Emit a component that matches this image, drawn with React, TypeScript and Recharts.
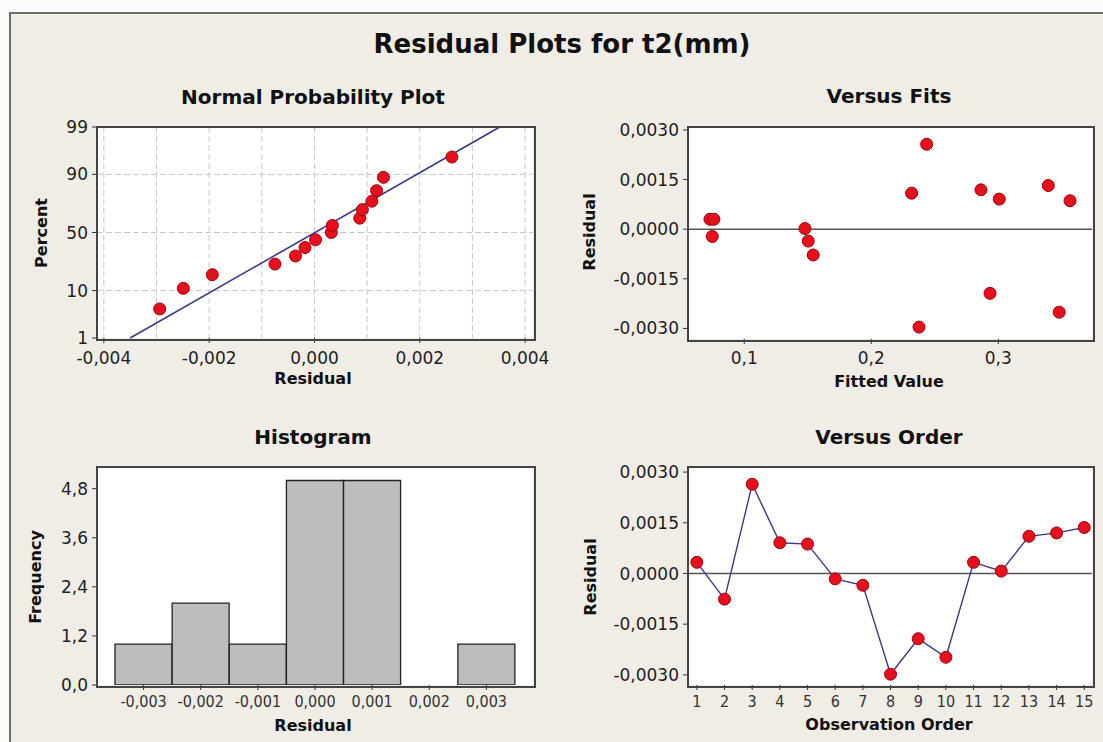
import React from "react";
import {
  ComposedChart,
  Scatter,
  Line,
  Bar,
  XAxis,
  YAxis,
  CartesianGrid,
  ReferenceLine,
} from "recharts";

// ---------- DATA ----------
// Normal probability plot: sorted residuals and their plotted percents
const normResiduals = [
  -0.00294, -0.00249, -0.00194, -0.00075, -0.00036, -0.00018, 0.00002, 0.00032,
  0.00034, 0.00086, 0.00091, 0.00109, 0.00118, 0.00131, 0.00261,
];
const normPercents = [
  4.6, 10.9, 17.6, 24.3, 30.2, 37.0, 43.6, 50.0, 56.2, 62.4, 69.3, 75.5, 82.2,
  88.8, 95.2,
];
const fitLineResiduals = [-0.0035, 0.00352];
const fitLinePercents = [1, 99];
const normXTicks = [-0.004, -0.002, 0, 0.002, 0.004];
const normXGrid = [-0.004, -0.003, -0.002, -0.001, 0, 0.001, 0.002, 0.003, 0.004];
const normPercentTicks = [1, 10, 50, 90, 99];
const normPercentGrid = [10, 50, 90];

// Versus fits
const fittedValues = [
  0.073, 0.0761, 0.0748, 0.1478, 0.1504, 0.1543, 0.2318, 0.2376, 0.2436, 0.2864,
  0.2935, 0.3008, 0.3394, 0.348, 0.3565,
];
const fitsResiduals = [
  0.0003, 0.0003, -0.00022, 0.00002, -0.00036, -0.00078, 0.00109, -0.00296,
  0.00257, 0.00119, -0.00194, 0.00091, 0.00132, -0.00251, 0.00086,
];
const fitsXTicks = [0.1, 0.2, 0.3];
const residualTicks = [-0.003, -0.0015, 0, 0.0015, 0.003];

// Histogram
const histBins = ["-0,003", "-0,002", "-0,001", "0,000", "0,001", "0,002", "0,003"];
const histCounts = [1, 2, 1, 5, 5, 0, 1];
const histYTicks = [0, 1.2, 2.4, 3.6, 4.8];

// Versus order
const orderObs = [1, 2, 3, 4, 5, 6, 7, 8, 9, 10, 11, 12, 13, 14, 15];
const orderResiduals = [
  0.00033, -0.00076, 0.00264, 0.00091, 0.00087, -0.00016, -0.00035, -0.00298,
  -0.00193, -0.00248, 0.00033, 0.00007, 0.0011, 0.0012, 0.00136,
];

// ---------- helpers ----------
function probit(p: number): number {
  const a = [-3.969683028665376e1, 2.209460984245205e2, -2.759285104469687e2, 1.38357751867269e2, -3.066479806614716e1, 2.506628277459239];
  const b = [-5.447609879822406e1, 1.615858368580409e2, -1.556989798598866e2, 6.680131188771972e1, -1.328068155288572e1];
  const c = [-7.784894002430293e-3, -3.223964580411365e-1, -2.400758277161838, -2.549732539343734, 4.374664141464968, 2.938163982698783];
  const d = [7.784695709041462e-3, 3.224671290700398e-1, 2.445134137142996, 3.754408661907416];
  const pl = 0.02425;
  if (p < pl) {
    const q = Math.sqrt(-2 * Math.log(p));
    return (((((c[0] * q + c[1]) * q + c[2]) * q + c[3]) * q + c[4]) * q + c[5]) / ((((d[0] * q + d[1]) * q + d[2]) * q + d[3]) * q + 1);
  }
  if (p <= 1 - pl) {
    const q = p - 0.5;
    const r = q * q;
    return ((((((a[0] * r + a[1]) * r + a[2]) * r + a[3]) * r + a[4]) * r + a[5]) * q) / (((((b[0] * r + b[1]) * r + b[2]) * r + b[3]) * r + b[4]) * r + 1);
  }
  const q = Math.sqrt(-2 * Math.log(1 - p));
  return -(((((c[0] * q + c[1]) * q + c[2]) * q + c[3]) * q + c[4]) * q + c[5]) / ((((d[0] * q + d[1]) * q + d[2]) * q + d[3]) * q + 1);
}
const z = (pct: number) => probit(pct / 100);
const comma = (v: number, digits: number) => v.toFixed(digits).replace(".", ",");

const normData = normResiduals.map((r, i) => ({ x: r, y: z(normPercents[i]) }));
const fitsData = fittedValues.map((f, i) => ({ x: f, y: fitsResiduals[i] }));
const histData = histBins.map((b, i) => ({ bin: b, count: histCounts[i] }));
const orderData = orderObs.map((o, i) => ({ obs: o, r: orderResiduals[i] }));

// ---------- layout / style ----------
const FONT = "'DejaVu Sans', Verdana, sans-serif";
const NARROW = "'DejaVu Sans Condensed', 'Liberation Sans Narrow', 'DejaVu Sans', sans-serif";
const BEIGE = "#efede5";
const RED = "#e5101c";
const NAVY = "#3a3a8c";

type Rect = { x0: number; y0: number; x1: number; y1: number };
const NPP: Rect = { x0: 97, y0: 127, x1: 533, y1: 338 };
const FITS: Rect = { x0: 688, y0: 127, x1: 1092, y1: 339 };
const HIST: Rect = { x0: 97, y0: 467, x1: 533, y1: 685 };
const ORDER: Rect = { x0: 688, y0: 467, x1: 1092, y1: 685 };
const LEFT = 90;
const TOP = 20;
const RIGHT = 20;
const XH = 40;

const tickStyle = { fontFamily: FONT, fontSize: 17, fill: "#1e1e1e" };
const smallTick = { fontFamily: NARROW, fontSize: 16, fill: "#333" };

function Dot(props: any) {
  const { cx, cy } = props;
  if (cx == null || cy == null) return null;
  return <circle cx={cx} cy={cy} r={6} fill={RED} stroke="#a00010" strokeWidth={1} />;
}

function Panel({ r, children }: { r: Rect; children: React.ReactNode }) {
  const w = r.x1 - r.x0 + LEFT + RIGHT;
  const h = r.y1 - r.y0 + TOP + XH;
  return (
    <>
      <div
        style={{
          position: "absolute",
          left: r.x0,
          top: r.y0,
          width: r.x1 - r.x0,
          height: r.y1 - r.y0,
          background: "#ffffff",
          zIndex: 0,
        }}
      />
      <div style={{ position: "absolute", left: r.x0 - LEFT, top: r.y0 - TOP, width: w, height: h, zIndex: 1 }}>
        {React.cloneElement(children as any, {
          width: w,
          height: h,
          margin: { top: TOP, right: RIGHT, left: 0, bottom: 0 },
        })}
      </div>
      <div
        style={{
          position: "absolute",
          left: r.x0 - 1,
          top: r.y0 - 1,
          width: r.x1 - r.x0,
          height: r.y1 - r.y0,
          border: "2px solid #444",
          boxSizing: "content-box",
          zIndex: 2,
          pointerEvents: "none",
        }}
      />
    </>
  );
}

function Txt({
  cx,
  cy,
  size,
  rotate,
  children,
}: {
  cx: number;
  cy: number;
  size: number;
  rotate?: boolean;
  children: React.ReactNode;
}) {
  return (
    <div
      style={{
        position: "absolute",
        left: cx,
        top: cy,
        transform: `translate(-50%, -50%)${rotate ? " rotate(-90deg)" : ""}`,
        whiteSpace: "nowrap",
        fontFamily: FONT,
        fontWeight: "bold",
        fontSize: size,
        lineHeight: 1,
        color: "#111",
        zIndex: 3,
      }}
    >
      {children}
    </div>
  );
}

export default function App() {
  const zTicks = normPercentTicks.map(z);
  const zLabel = (v: number) => {
    const idx = zTicks.findIndex((t) => Math.abs(t - v) < 1e-6);
    return idx >= 0 ? String(normPercentTicks[idx]) : "";
  };
  return (
    <div
      style={{
        position: "absolute",
        left: 0,
        top: 0,
        width: 1103,
        height: 742,
        overflow: "hidden",
        background: "#fbfbf9",
      }}
    >
      <div
        style={{
          position: "absolute",
          left: 9,
          top: 12,
          width: 1200,
          height: 800,
          background: BEIGE,
          borderLeft: "2px solid #6c6c6c",
          borderTop: "2px solid #6c6c6c",
        }}
      />

      <Txt cx={562} cy={44} size={26}>Residual Plots for t2(mm)</Txt>
      <Txt cx={313} cy={97} size={20}>Normal Probability Plot</Txt>
      <Txt cx={889} cy={96} size={20}>Versus Fits</Txt>
      <Txt cx={313} cy={437} size={20}>Histogram</Txt>
      <Txt cx={889} cy={437} size={20}>Versus Order</Txt>

      <Txt cx={313} cy={379} size={16}>Residual</Txt>
      <Txt cx={42} cy={233} size={16} rotate>Percent</Txt>
      <Txt cx={889} cy={382} size={16}>Fitted Value</Txt>
      <Txt cx={590} cy={232} size={16} rotate>Residual</Txt>
      <Txt cx={313} cy={726} size={16}>Residual</Txt>
      <Txt cx={36} cy={577} size={16} rotate>Frequency</Txt>
      <Txt cx={889} cy={725} size={16}>Observation Order</Txt>
      <Txt cx={591} cy={577} size={16} rotate>Residual</Txt>

      {/* Normal probability plot */}
      <Panel r={NPP}>
        <ComposedChart data={normData}>
          <CartesianGrid
            stroke="#c8c8c8"
            strokeDasharray="6 3"
            verticalValues={normXGrid}
            horizontalValues={normPercentGrid.map(z)}
          />
          <XAxis
            type="number"
            dataKey="x"
            domain={[-0.00413, 0.00415]}
            ticks={normXTicks}
            tickFormatter={(v: number) => comma(v, 3)}
            tick={tickStyle}
            tickSize={5}
            tickMargin={9}
            axisLine={false}
            tickLine={{ stroke: "#333" }}
            height={XH}
            allowDataOverflow
          />
          <YAxis
            type="number"
            dataKey="y"
            domain={[z(1), z(99)]}
            ticks={zTicks}
            tickFormatter={zLabel}
            tick={tickStyle}
            tickSize={5}
            tickMargin={4}
            axisLine={false}
            tickLine={{ stroke: "#333" }}
            width={LEFT}
            allowDataOverflow
          />
          <ReferenceLine
            segment={[
              { x: fitLineResiduals[0], y: z(fitLinePercents[0]) },
              { x: fitLineResiduals[1], y: z(fitLinePercents[1]) },
            ]}
            stroke={NAVY}
            strokeWidth={1.6}
            ifOverflow="visible"
          />
          <Scatter data={normData} dataKey="y" shape={<Dot />} isAnimationActive={false} />
        </ComposedChart>
      </Panel>

      {/* Versus fits */}
      <Panel r={FITS}>
        <ComposedChart data={fitsData}>
          <XAxis
            type="number"
            dataKey="x"
            domain={[0.0557, 0.3738]}
            ticks={fitsXTicks}
            tickFormatter={(v: number) => comma(v, 1)}
            tick={tickStyle}
            tickSize={5}
            tickMargin={8}
            axisLine={false}
            tickLine={{ stroke: "#333" }}
            height={XH}
            allowDataOverflow
          />
          <YAxis
            type="number"
            dataKey="y"
            domain={[-0.00332, 0.00309]}
            ticks={residualTicks}
            tickFormatter={(v: number) => comma(v, 4)}
            tick={tickStyle}
            tickSize={5}
            tickMargin={4}
            axisLine={false}
            tickLine={{ stroke: "#333" }}
            width={LEFT}
            allowDataOverflow
          />
          <ReferenceLine y={0} stroke="#555" strokeWidth={1.6} />
          <Scatter data={fitsData} dataKey="y" shape={<Dot />} isAnimationActive={false} />
        </ComposedChart>
      </Panel>

      {/* Histogram */}
      <Panel r={HIST}>
        <ComposedChart data={histData} barCategoryGap={0} barGap={0}>
          <XAxis
            type="category"
            dataKey="bin"
            padding={{ left: 18, right: 18 }}
            tick={smallTick}
            tickSize={5}
            tickMargin={6}
            axisLine={false}
            tickLine={{ stroke: "#333" }}
            height={XH}
            interval={0}
          />
          <YAxis
            type="number"
            domain={[0, 5.33]}
            ticks={histYTicks}
            tickFormatter={(v: number) => comma(v, 1)}
            tick={tickStyle}
            tickSize={5}
            tickMargin={4}
            axisLine={false}
            tickLine={{ stroke: "#333" }}
            width={LEFT}
            allowDataOverflow
          />
          <Bar dataKey="count" fill="#bdbdbd" stroke="#222" strokeWidth={1.3} isAnimationActive={false} />
        </ComposedChart>
      </Panel>

      {/* Versus order */}
      <Panel r={ORDER}>
        <ComposedChart data={orderData}>
          <XAxis
            type="number"
            dataKey="obs"
            domain={[0.68, 15.28]}
            ticks={orderObs}
            tick={smallTick}
            tickSize={5}
            tickMargin={6}
            axisLine={false}
            tickLine={{ stroke: "#333" }}
            height={XH}
            interval={0}
            allowDataOverflow
          />
          <YAxis
            type="number"
            domain={[-0.0033, 0.00315]}
            ticks={residualTicks}
            tickFormatter={(v: number) => comma(v, 4)}
            tick={tickStyle}
            tickSize={5}
            tickMargin={4}
            axisLine={false}
            tickLine={{ stroke: "#333" }}
            width={LEFT}
            allowDataOverflow
          />
          <ReferenceLine y={0} stroke="#555" strokeWidth={1.6} />
          <Line
            type="linear"
            dataKey="r"
            stroke={NAVY}
            strokeWidth={1.4}
            dot={<Dot />}
            activeDot={false}
            isAnimationActive={false}
          />
        </ComposedChart>
      </Panel>
    </div>
  );
}
